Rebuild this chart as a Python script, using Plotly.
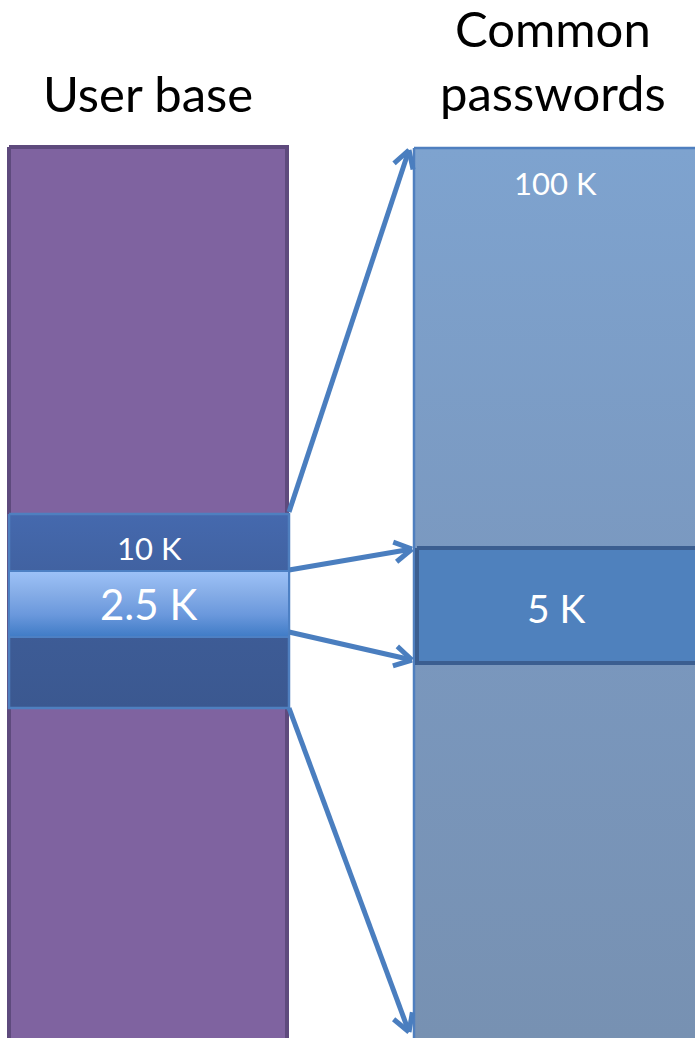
import math
import plotly.graph_objects as go

# Diagram content
column_titles = ["User base", "Common<br>passwords"]
user_labels = ["10 K", "2.5 K"]
password_labels = ["100 K", "5 K"]

FONT = "Lato, 'Open Sans', sans-serif"
W, H = 695, 1038

fig = go.Figure()


def rect(x0, y0, x1, y1, colors, line_color, line_width, g0=None, g1=None):
    """Filled rectangle with a vertical gradient."""
    g0 = y0 if g0 is None else g0
    g1 = y1 if g1 is None else g1
    n = len(colors) - 1
    fig.add_trace(go.Scatter(
        x=[x0, x1, x1, x0, x0], y=[y0, y0, y1, y1, y0],
        mode="lines", fill="toself",
        line=dict(color=line_color, width=line_width),
        fillgradient=dict(type="vertical", start=g1, stop=g0,
                          colorscale=[[i / n, c] for i, c in enumerate(colors[::-1])]),
        hoverinfo="skip", showlegend=False))


def arrow(x0, y0, x1, y1, color="#4a7ebf", width=5, head=20, spread=30):
    ang = math.atan2(y1 - y0, x1 - x0)
    xs, ys = [x0, x1], [y0, y1]
    bx, by = [], []
    for s in (-1, 1):
        a = ang + math.pi + s * math.radians(spread)
        bx += [x1 + head * math.cos(a), x1, None]
        by += [y1 + head * math.sin(a), y1, None]
    fig.add_trace(go.Scatter(x=xs + [None] + bx, y=ys + [None] + by, mode="lines",
                             line=dict(color=color, width=width),
                             hoverinfo="skip", showlegend=False))


# User base column
rect(9, 147, 287, 1060, ["#7f63a0", "#7f63a0"], "#5e4a7d", 4)
rect(9, 514, 289, 708, ["#4569ae", "#3e5d98", "#3b5890"], "#4f7fbf", 2.5)
rect(9, 571, 289, 637, ["#9dc2f8", "#86ade7", "#6a98dc", "#3f7bc6"], "#4d80c4", 2)

# Common passwords column
rect(414, 148, 710, 1060, ["#7ea3cf", "#7a98bf", "#7791b2"], "#4f7fbf", 2.5, 148, 1038)
rect(417, 548, 710, 663, ["#4f81bd", "#4f81bd"], "#3b5e90", 4)

# Mapping arrows
arrow(289, 512, 409, 150)
arrow(289, 570, 412, 549)
arrow(289, 632, 412, 660)
arrow(289, 708, 409, 1032)

annotations = [
    dict(x=148, y=93, text=column_titles[0], font=dict(size=49, color="#000000")),
    dict(x=553, y=60, text=column_titles[1], font=dict(size=49, color="#000000")),
    dict(x=149, y=548, text=user_labels[0], font=dict(size=31, color="#ffffff")),
    dict(x=148, y=604, text=user_labels[1], font=dict(size=42, color="#ffffff")),
    dict(x=555, y=183, text=password_labels[0], font=dict(size=31, color="#ffffff")),
    dict(x=556, y=608, text=password_labels[1], font=dict(size=39, color="#ffffff")),
]
for a in annotations:
    a.update(xref="x", yref="y", showarrow=False, xanchor="center", yanchor="middle")
    a["font"]["family"] = FONT

fig.update_layout(
    width=W, height=H, margin=dict(l=0, r=0, t=0, b=0),
    paper_bgcolor="#ffffff", plot_bgcolor="#ffffff",
    xaxis=dict(range=[0, W], visible=False, fixedrange=True),
    yaxis=dict(range=[H, 0], visible=False, fixedrange=True),
    annotations=annotations, showlegend=False,
)

fig.write_html("out.html")
